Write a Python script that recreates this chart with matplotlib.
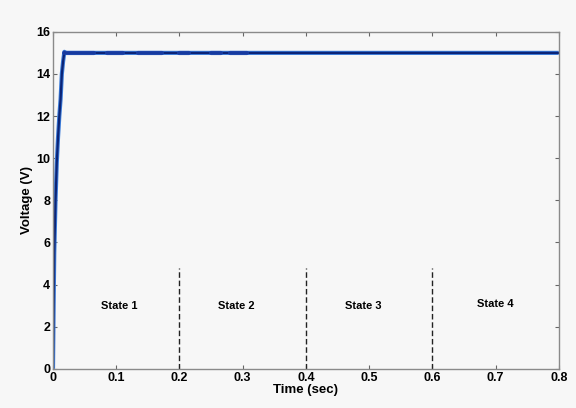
import matplotlib.pyplot as plt

plt.rcParams['font.family'] = ['Liberation Sans', 'DejaVu Sans']
plt.rcParams['font.weight'] = 'bold'

# output voltage of the converter
time = [0, 0.001, 0.002, 0.004, 0.006, 0.008, 0.010, 0.012, 0.014, 0.016, 0.018, 0.020, 0.8]
volts = [0, 3.0, 5.5, 8.0, 9.8, 11.0, 12.0, 12.8, 14.0, 14.6, 15.05, 15.0, 15.0]

# stretches where the ripple makes the trace look heavier
ripple_spans = [(0.018, 0.065), (0.085, 0.11), (0.135, 0.172), (0.2, 0.215),
                (0.25, 0.265), (0.28, 0.307)]
ripple_level = 15.0

# state boundaries and labels
bounds = [0.2, 0.4, 0.6]
bound_top = 4.8
state_names = ['State 1', 'State 2', 'State 3', 'State 4']
state_x = [0.105, 0.29, 0.49, 0.70]
state_y = [3.0, 3.0, 3.0, 3.1]

bg = '#f7f7f7'
fig = plt.figure(figsize=(5.76, 4.08), dpi=100, facecolor=bg)
ax = fig.add_axes([0.092, 0.096, 0.878, 0.826], facecolor=bg)

ax.plot(time, volts, color='#3a7ad8', lw=3.0, solid_capstyle='butt')
ax.plot(time, volts, color='#0b2477', lw=1.6)
for a, b in ripple_spans:
    ax.plot([a, b], [ripple_level, ripple_level], color='#1a3fa6', lw=3.0,
            solid_capstyle='round', alpha=0.85)

for b in bounds:
    ax.plot([b, b], [0, bound_top], color='#222222', lw=1.0, ls=(0, (4, 2)))

for name, x, y in zip(state_names, state_x, state_y):
    ax.text(x, y, name, ha='center', va='center', fontsize=8, fontweight='bold')

ax.set_xlim(0, 0.8)
ax.set_ylim(0, 16)
ax.set_xticks([0, 0.1, 0.2, 0.3, 0.4, 0.5, 0.6, 0.7, 0.8])
ax.set_xticklabels(['0', '0.1', '0.2', '0.3', '0.4', '0.5', '0.6', '0.7', '0.8'])
ax.set_yticks(range(0, 17, 2))
ax.tick_params(direction='in', length=3, width=0.8, color='#666666',
               top=True, right=True, labelsize=9, pad=2)
for s in ax.spines.values():
    s.set_color('#8a8a8a')
    s.set_linewidth(1.0)

ax.set_xlabel('Time (sec)', fontsize=9.5, fontweight='bold', labelpad=0)
ax.set_ylabel('Voltage (V)', fontsize=9.5, fontweight='bold', labelpad=2)

fig.savefig('out.png', dpi=100, facecolor=bg)
